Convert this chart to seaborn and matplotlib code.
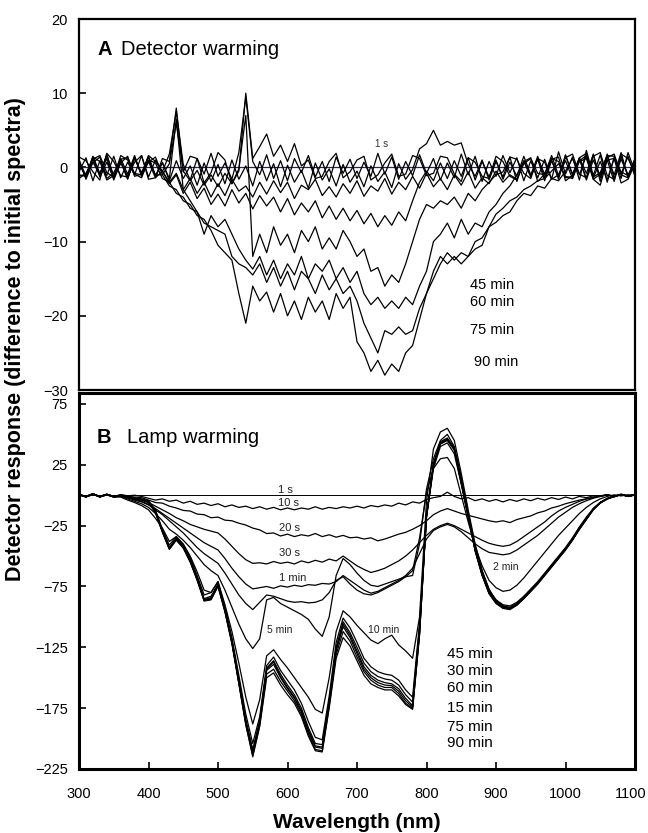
import numpy as np
import pandas as pd
import matplotlib
matplotlib.use("Agg")
import matplotlib.pyplot as plt
import matplotlib.transforms as mtransforms
import seaborn as sns

# ---------------- data ----------------
wavelength = np.arange(300, 1101, 10)  # nm sampling grid

# Panel A: detector warming (difference to initial spectra)
A_1s_x = [300, 1100]
A_1s_y = [0.0, 0.0]
A_2min = [-0.6, 1.3, -1.8, 0.9, -1.1, 1.5, -1.4, 0.7, -1.0, 1.6,
          -1.3, 1.0, -0.6, 1.8, 7.5, 0.4, -1.7, 1.2, -0.9, 1.9,
          -1.2, 0.6, -1.6, 2.0, 9.5, 0.8, -1.0, 1.7, -1.5, 0.9,
          -1.8, 1.2, -0.7, 1.6, -1.3, 0.8, -1.9, 1.4, -0.8, 1.1,
          -1.5, 0.7, -1.2, 1.9, -0.9, 1.4, -1.6, 0.8, -1.1, 1.7,
          -0.8, 1.2, -1.7, 0.6, -1.4, 1.8, -1.0, 1.5, -1.9, 0.8,
          -1.2, 1.6, -0.7, 1.3, -1.8, 0.9, -1.4, 1.1, -1.6, 2.1,
          -0.9, 1.4, -1.7, 2.3, -1.1, 1.7, -2.0, 1.3, -1.5, 2.0,
          -0.6]
A_5min = [1.4, 0.9, -0.6, -1.7, 1.9, 0.8, -1.1, -1.3, 0.7, 1.6,
          -1.6, -1.4, 1.2, 0.8, 8.0, -0.6, 1.5, 1.2, -2.1, -0.7,
          2.0, 1.0, -2.2, -0.5, 10.0, 1.2, 2.8, 4.5, 1.5, 3.0,
          0.8, 3.2, 0.2, 1.0, -1.5, -1.2, 0.8, 1.9, -1.4, -0.6,
          1.0, 1.5, -1.7, -1.0, 0.6, 1.8, -1.2, -0.9, 1.6, 1.2,
          -1.1, -0.8, 1.5, 1.3, -0.9, -1.9, 1.3, 0.7, -1.2, -1.5,
          1.5, 0.8, -1.2, -1.7, 0.8, 1.3, -1.9, -0.9, 1.1, 1.4,
          -1.8, -1.1, 1.3, 1.9, -1.6, -2.4, 1.0, 1.2, -2.1, -1.6,
          0.5]
A_10min = [0.6, -1.4, 1.1, -0.9, 1.6, -1.2, 0.8, -1.6, 1.3, -1.0,
           1.5, -1.1, 0.7, -1.8, 0.9, -1.5, 0.2, -2.4, 0.6, -1.9,
           0.4, -2.2, 1.0, -1.6, 0.2, -2.5, 0.8, -1.8, 0.5, -2.6,
           0.3, -2.0, -0.4, -2.8, 0.6, -1.7, -0.2, -2.5, 0.4, -2.0,
           -0.5, -2.6, 0.2, -1.9, -0.6, -2.7, 0.5, -1.6, -0.3, 2.5,
           3.2, 5.0, 3.0, 3.5, 3.0, 3.3, 0.4, -1.2, 1.0, -1.7,
           0.8, -1.3, 1.4, -1.9, 0.9, -1.1, 1.5, -1.4, 1.0, -1.6,
           1.7, -1.0, 1.2, -1.5, 1.8, -1.9, 1.5, -1.0, 2.0, -1.4,
           0.8]
A_15min = [-1.2, -0.9, 0.6, 1.4, -1.5, -0.7, 1.1, 1.3, -0.8, -1.0,
           1.6, 0.8, -0.5, -2.0, -0.8, -3.0, -1.5, -3.5, -2.0, -4.0,
           -2.2, -3.8, -1.6, -3.2, -2.5, -4.0, -2.0, -3.6, -1.8, -3.4,
           -2.0, -4.2, -2.4, -3.0, -1.6, -3.8, -2.6, -4.0, -2.2, -3.5,
           -1.8, -3.9, -2.5, -3.2, -1.5, -3.6, -2.0, -3.0, -1.2, -2.8,
           -0.8, -2.6, -1.5, -3.0, -1.0, -2.4, -0.6, -2.8, -1.4, -2.2,
           -0.5, -2.0, -1.0, -1.6, 0.5, 1.2, -0.8, -1.0, 1.2, 0.8,
           -1.4, -1.2, 0.9, 1.6, -1.3, -0.7, 1.6, 1.5, -0.6, -1.1,
           1.2]
A_30min = [0.9, -1.1, 1.4, -1.3, 0.7, -1.5, 1.2, -0.9, 1.6, -1.2,
           0.8, -1.4, -0.5, -2.2, -1.0, -3.5, -2.0, -4.2, -2.8, -5.0,
           -3.6, -5.2, -3.0, -4.8, -3.5, -5.6, -3.8, -5.2, -4.0, -6.0,
           -4.2, -6.4, -4.8, -6.0, -4.5, -6.8, -5.2, -7.0, -5.5, -7.2,
           -5.8, -7.6, -6.2, -8.0, -6.5, -7.8, -6.0, -7.2, -4.5, -2.0,
           -0.5, -1.8, 0.6, -1.5, 0.9, -1.2, 1.3, -1.7, 0.8, -1.3,
           1.0, -1.6, 0.7, -1.2, 1.5, -1.0, 1.1, -1.8, 0.9, -1.3,
           1.6, -0.9, 1.2, -1.7, 1.0, -1.2, 1.8, -1.5, 1.1, -1.0,
           0.5]
A_45min = [-1.0, -1.2, 1.4, 0.8, -1.7, -1.1, 0.6, 1.5, -1.2, -0.9,
           0.7, 1.4, -1.0, 0.5, 6.0, -0.5, -1.8, -0.4, -2.4, -1.0,
           -2.6, -0.8, -2.2, -0.2, 7.0, -12.0, -9.0, -11.5, -8.0, -10.5,
           -9.0, -11.5, -8.5, -10.0, -8.0, -11.0, -9.5, -11.0, -8.5, -10.0,
           -12.0, -11.0, -14.0, -13.5, -16.0, -14.5, -15.5, -13.0, -10.0, -7.0,
           -5.0, -5.5, -4.5, -5.0, -4.0, -5.5, -3.5, -4.5, -3.0, -2.0,
           -1.0, -0.6, 1.4, 1.1, -0.8, -1.5, 1.2, 0.7, -1.6, -1.0,
           1.3, 1.8, -0.9, -1.4, 1.5, 2.0, -1.1, -1.6, 1.8, 1.2,
           -0.8]
A_60min = [1.1, -1.6, 0.7, -1.0, 1.8, -1.3, 0.9, -1.5, 1.2, -0.7,
           1.4, -1.2, 0.6, -1.5, 6.5, -3.0, -4.5, -6.0, -9.0, -6.5,
           -8.0, -7.0, -9.0, -11.0, -12.5, -13.7, -12.0, -14.5, -12.5, -15.0,
           -13.0, -14.5, -12.0, -15.0, -13.0, -14.0, -12.5, -15.0, -13.5, -15.5,
           -14.0, -17.0, -18.5, -17.5, -19.0, -18.0, -19.0, -17.5, -18.5, -16.0,
           -14.0, -10.0, -9.0, -7.5, -9.5, -7.0, -9.0, -7.5, -8.0, -6.0,
           -5.0, -3.5, -2.5, -1.0, 0.8, -1.3, 1.2, -0.9, 1.6, -1.1,
           0.9, -1.5, 1.3, -0.8, 1.7, -1.4, 1.0, -1.9, 1.5, -1.2,
           0.7]
A_75min = [-1.5, -0.8, 1.1, 1.6, -0.7, -1.3, 1.6, 1.0, -0.9, -1.4,
           1.0, 0.6, -1.5, -2.0, -3.5, -4.0, -5.5, -6.0, -7.5, -8.0,
           -8.5, -9.0, -12.0, -13.0, -13.5, -14.5, -13.0, -15.5, -13.5, -16.0,
           -14.0, -16.5, -14.0, -15.0, -17.0, -14.5, -16.5, -15.0, -17.0, -16.0,
           -18.0, -21.0, -23.0, -25.0, -22.0, -22.5, -21.5, -22.5, -22.0, -19.0,
           -17.0, -15.0, -13.0, -11.5, -12.5, -11.5, -12.0, -10.0, -9.5, -8.0,
           -6.3, -5.5, -4.5, -4.0, -3.0, -2.5, -1.8, -1.5, -0.5, 0.5,
           -1.2, -1.5, 0.8, 1.2, -1.6, -0.9, 1.3, 1.8, -1.0, -1.4,
           1.1]
A_90min = [0.7, -1.3, 1.5, -0.8, 1.2, -1.7, 0.6, -1.2, 1.4, -1.0,
           0.9, -1.0, -1.0, -2.5, -3.0, -4.5, -5.0, -6.5, -7.0, -8.5,
           -10.5, -11.5, -12.5, -17.0, -21.0, -16.0, -18.0, -16.8, -19.5, -17.0,
           -20.0, -18.0, -20.5, -17.5, -19.5, -18.0, -20.5, -17.0, -19.0, -17.5,
           -23.5, -25.0, -27.5, -26.0, -28.0, -26.5, -27.5, -25.0, -24.0, -20.5,
           -17.0, -14.0, -12.0, -13.0, -12.0, -13.0, -12.0, -11.0, -10.5, -8.0,
           -7.4, -6.5, -6.0, -4.5, -3.5, -3.8, -2.5, -2.8, -1.5, -1.8,
           -0.5, 1.2, -1.0, 1.6, -1.4, 0.8, -1.7, 1.3, -0.9, 1.5,
           -1.2]

# Panel B: lamp warming
B_1s_x = [300, 1100]
B_1s_y = [0.0, 0.0]
B_10s = [0.5, -1.5, 1.0, -1.2, 0.8, -1.0, 0.5, -0.5, 0.0, -1.0,
         -2.5, -4.0, -3.0, -5.0, -4.0, -6.5, -5.0, -7.5, -6.5, -8.5,
         -7.0, -9.5, -8.0, -10.0, -9.0, -11.0, -9.5, -11.5, -10.0, -12.0,
         -10.5, -12.0, -10.5, -11.5, -9.5, -11.5, -10.0, -11.0, -9.5, -10.5,
         -9.0, -10.5, -8.5, -9.5, -8.0, -9.0, -6.5, -8.0, -5.5, -6.5,
         -3.5, -2.0, -1.0, 2.5, -1.0, -3.0, -2.0, -4.5, -3.0, -5.0,
         -3.5, -5.5, -3.5, -5.0, -3.0, -4.5, -2.5, -4.0, -2.0, -3.5,
         -1.5, -3.0, -1.0, -2.0, -0.5, -1.0, 0.5, -1.5, 1.0, -1.0,
         0.5]
B_20s = [0.8, -1.2, 1.2, -1.0, 0.5, -1.3, 0.3, -0.8, -1.5, -2.0,
         -4.0, -6.0, -6.5, -9.0, -10.5, -12.5, -13.0, -15.5, -16.0, -18.5,
         -18.0, -20.5, -21.0, -23.0, -24.5, -27.0, -28.5, -31.5, -31.0, -33.5,
         -32.0, -34.0, -32.5, -33.5, -31.5, -34.0, -32.5, -34.5, -33.0, -35.0,
         -34.5, -36.0, -35.0, -37.5, -36.0, -34.0, -32.0, -30.5, -28.0, -25.0,
         -21.0, -16.0, -13.0, -11.0, -13.0, -15.0, -16.5, -18.0, -19.5, -21.0,
         -22.0, -21.0, -22.5, -20.0, -18.5, -17.0, -14.5, -13.0, -10.5, -9.0,
         -7.0, -5.5, -4.0, -3.0, -1.5, -1.0, 0.3, -0.8, 0.5, -1.0,
         0.3]
B_30s = [0.3, -1.0, 0.9, -1.4, 0.6, -1.1, 0.0, -1.5, -2.5, -4.0,
         -6.0, -9.0, -12.0, -15.0, -18.5, -21.0, -24.0, -26.0, -28.0, -29.5,
         -31.0, -36.0, -42.0, -48.0, -53.0, -56.0, -55.5, -56.5, -54.5, -56.0,
         -55.0, -56.5, -54.0, -55.5, -53.5, -55.0, -52.5, -54.0, -50.0, -54.0,
         -58.0, -61.0, -63.5, -62.0, -60.0, -57.0, -54.0, -50.0, -45.0, -39.0,
         -33.0, -28.0, -25.0, -23.0, -25.0, -28.0, -31.0, -34.0, -37.0, -39.5,
         -41.0, -42.0, -41.0, -38.0, -34.0, -30.0, -26.0, -22.0, -17.0, -13.0,
         -10.0, -7.5, -5.0, -3.0, -2.0, -0.5, 0.5, -1.0, 0.6, -0.8,
         0.2]
B_1min = [0.6, -1.3, 0.4, -1.0, 0.8, -1.5, -0.5, -2.0, -3.5, -5.0,
          -7.5, -11.0, -15.0, -19.0, -23.0, -27.0, -31.0, -35.0, -39.0, -42.0,
          -45.0, -52.0, -60.0, -67.0, -73.0, -77.0, -76.0, -75.0, -76.5, -74.5,
          -75.5, -74.0, -75.0, -73.5, -74.0, -72.5, -73.0, -71.0, -66.0, -70.0,
          -74.0, -78.0, -80.5, -79.0, -76.0, -73.0, -70.0, -66.0, -60.0, -48.0,
          -36.0, -29.0, -26.0, -24.0, -26.0, -30.0, -35.0, -40.0, -44.0, -47.0,
          -48.0, -49.0, -48.0, -45.0, -41.0, -37.0, -33.0, -28.0, -23.0, -18.0,
          -14.0, -10.0, -7.0, -4.5, -2.5, -1.0, 0.3, -0.8, 0.5, -1.0,
          0.4]
B_2min = [0.2, -1.1, 0.7, -1.3, 0.4, -1.4, -0.6, -2.2, -4.0, -5.5,
          -8.0, -12.0, -16.0, -21.0, -26.0, -31.0, -37.0, -43.0, -48.0, -52.0,
          -56.0, -64.0, -73.0, -82.0, -89.0, -94.0, -88.0, -82.0, -83.0, -85.0,
          -87.0, -88.0, -87.5, -88.5, -88.0, -86.0, -80.0, -70.0, -67.0, -73.0,
          -78.0, -81.0, -82.0, -80.0, -77.0, -74.0, -71.0, -67.0, -62.0, -35.0,
          2.0, 22.0, 30.0, 31.0, 22.0, 0.0, -22.0, -42.0, -58.0, -70.0,
          -76.0, -79.0, -78.0, -74.0, -68.0, -61.0, -54.0, -47.0, -40.0, -33.0,
          -27.0, -21.0, -15.0, -10.0, -6.0, -3.0, -1.0, 0.3, -0.6, 0.4,
          0.0]
B_5min = [0.4, -1.2, 0.9, -1.0, 0.3, -1.6, -1.0, -3.0, -5.0, -7.0,
          -10.0, -15.0, -21.0, -28.0, -32.0, -37.0, -43.0, -50.0, -57.0, -62.0,
          -66.0, -78.0, -92.0, -106.0, -118.0, -126.0, -118.0, -86.0, -84.0, -89.0,
          -92.0, -95.0, -98.0, -102.0, -110.0, -116.0, -100.0, -66.0, -52.0, -57.0,
          -64.0, -70.0, -74.0, -75.0, -73.0, -71.0, -69.0, -67.0, -66.0, -40.0,
          5.0, 30.0, 45.0, 50.0, 40.0, 15.0, -15.0, -42.0, -62.0, -78.0,
          -86.0, -91.0, -93.0, -89.0, -84.0, -78.0, -72.0, -65.0, -58.0, -51.0,
          -44.0, -36.0, -27.0, -19.0, -11.0, -6.0, -3.0, -1.0, 0.5, -0.6,
          0.3]
B_10min = [0.7, -1.0, 1.1, -1.5, 0.2, -1.2, -1.5, -4.0, -6.0, -8.5,
           -12.0, -19.0, -27.0, -38.0, -34.0, -40.0, -50.0, -63.0, -78.0, -80.0,
           -71.0, -90.0, -112.0, -138.0, -166.0, -188.0, -168.0, -132.0, -127.0, -135.0,
           -142.0, -150.0, -158.0, -166.0, -176.0, -179.0, -150.0, -112.0, -95.0, -100.0,
           -107.0, -113.0, -119.0, -122.0, -118.0, -115.0, -123.0, -128.0, -134.0, -100.0,
           -5.0, 38.0, 52.0, 55.0, 45.0, 18.0, -12.0, -40.0, -62.0, -77.0,
           -87.0, -91.0, -93.0, -90.0, -85.0, -79.0, -73.0, -66.0, -59.0, -52.0,
           -45.0, -37.0, -28.0, -20.0, -12.0, -6.0, -3.0, -0.5, 0.5, -0.8,
           0.3]
B_15min = [0.3, -1.4, 1.0, -1.1, 0.6, -0.8, -0.6, -1.5, -2.5, -3.5,
           -5.0, -12.0, -28.0, -41.0, -34.0, -41.0, -51.0, -66.0, -82.0, -80.0,
           -71.0, -92.0, -117.0, -148.0, -180.0, -204.0, -182.0, -140.0, -133.0, -144.0,
           -152.0, -160.0, -171.0, -186.0, -199.0, -201.0, -165.0, -121.0, -101.0, -109.0,
           -121.0, -134.0, -141.0, -145.0, -147.0, -148.0, -152.0, -160.0, -166.0, -105.0,
           -18.0, 22.0, 40.0, 43.0, 34.0, 9.0, -18.0, -44.0, -63.0, -78.0,
           -86.0, -90.0, -91.0, -88.0, -83.0, -77.0, -71.0, -64.0, -57.0, -50.0,
           -43.0, -35.0, -26.0, -18.0, -11.0, -6.0, -2.5, -1.0, 0.5, -0.7,
           0.2]
B_30min = [0.8, -1.0, 1.3, -1.4, 0.4, -1.2, -0.3, -1.3, -2.2, -3.2,
           -4.5, -13.0, -29.0, -43.0, -36.0, -42.0, -53.0, -68.0, -85.0, -83.0,
           -73.0, -93.0, -119.0, -151.0, -184.0, -209.0, -185.0, -142.0, -136.0, -147.0,
           -156.0, -164.0, -175.0, -191.0, -204.0, -205.0, -169.0, -125.0, -104.0, -113.0,
           -125.0, -138.0, -145.0, -149.0, -151.0, -152.0, -156.0, -164.0, -170.0, -108.0,
           -18.0, 24.0, 42.0, 45.0, 37.0, 10.0, -18.0, -45.0, -64.0, -79.0,
           -87.0, -91.0, -92.0, -89.0, -84.0, -78.0, -72.0, -65.0, -58.0, -51.0,
           -44.0, -36.0, -27.0, -19.0, -11.5, -6.0, -3.0, -1.0, 0.6, -0.6,
           0.3]
B_45min = [0.5, -1.3, 0.8, -1.0, 0.9, -1.1, -0.4, -1.6, -2.4, -3.6,
           -5.5, -14.0, -30.0, -44.0, -36.0, -43.0, -54.0, -69.0, -86.0, -85.0,
           -74.0, -95.0, -121.0, -154.0, -187.0, -212.0, -187.0, -144.0, -139.0, -150.0,
           -159.0, -167.0, -178.0, -194.0, -207.0, -208.0, -171.0, -128.0, -106.0, -115.0,
           -128.0, -141.0, -148.0, -152.0, -154.0, -155.0, -159.0, -167.0, -173.0, -112.0,
           -17.0, 25.0, 43.0, 46.0, 38.0, 11.0, -17.0, -45.0, -65.0, -80.0,
           -88.0, -92.0, -93.0, -90.0, -84.0, -78.0, -72.0, -65.0, -58.0, -51.0,
           -44.0, -36.0, -27.0, -19.0, -11.0, -6.0, -2.8, -0.8, 0.4, -0.9,
           0.1]
B_60min = [0.2, -1.1, 1.2, -1.3, 0.6, -0.9, -0.7, -1.4, -2.6, -3.4,
           -5.0, -13.5, -29.5, -43.5, -35.0, -42.5, -53.5, -68.5, -86.0, -84.0,
           -73.5, -94.0, -120.0, -153.0, -186.0, -211.0, -186.0, -143.0, -137.0, -149.0,
           -158.0, -166.0, -177.0, -193.0, -206.0, -207.0, -170.0, -127.0, -108.0, -117.0,
           -130.0, -143.0, -150.0, -154.0, -156.0, -156.5, -161.0, -169.0, -174.0, -113.0,
           -17.5, 24.5, 42.5, 45.5, 37.5, 10.5, -17.5, -45.5, -65.5, -80.5,
           -88.5, -92.5, -93.5, -90.0, -84.5, -78.5, -72.5, -65.5, -58.5, -51.5,
           -44.5, -36.5, -27.5, -19.5, -11.5, -6.5, -3.0, -1.2, 0.4, -0.5,
           0.2]
B_75min = [0.6, -1.5, 0.9, -1.2, 0.7, -1.0, -0.5, -1.7, -2.7, -3.8,
           -6.0, -14.5, -30.5, -44.5, -37.0, -43.5, -55.0, -70.0, -87.0, -86.0,
           -75.0, -96.0, -122.0, -155.0, -189.0, -214.0, -189.0, -147.0, -143.0, -153.0,
           -161.0, -169.0, -180.0, -196.0, -209.0, -210.0, -173.0, -131.0, -112.0, -120.0,
           -133.0, -145.0, -152.0, -156.0, -158.0, -158.0, -163.0, -171.0, -175.0, -114.0,
           -17.0, 25.0, 43.0, 46.0, 38.0, 11.0, -17.0, -46.0, -66.0, -81.0,
           -89.0, -93.0, -94.0, -90.5, -85.0, -79.0, -73.0, -66.0, -59.0, -52.0,
           -45.0, -37.0, -28.0, -20.0, -12.0, -6.5, -3.2, -1.0, 0.5, -0.7,
           0.1]
B_90min = [0.4, -1.2, 1.1, -1.0, 0.5, -1.3, -0.6, -1.5, -2.5, -3.7,
           -5.5, -14.0, -30.0, -44.0, -36.5, -43.0, -54.5, -69.5, -86.5, -85.5,
           -74.5, -95.5, -121.5, -154.5, -188.0, -215.0, -190.0, -150.0, -146.0, -156.0,
           -164.0, -171.0, -182.0, -198.0, -210.0, -211.0, -175.0, -134.0, -117.0, -124.0,
           -136.0, -148.0, -155.0, -158.0, -160.0, -160.0, -165.0, -172.0, -176.0, -115.0,
           -16.0, 26.0, 44.0, 47.0, 39.0, 12.0, -16.0, -45.0, -65.5, -80.5,
           -88.5, -92.5, -93.5, -90.0, -84.5, -78.5, -72.5, -65.5, -58.5, -51.5,
           -44.5, -36.5, -27.5, -19.5, -11.5, -6.0, -2.8, -0.9, 0.5, -0.6,
           0.2]

A_curves = {"2 min": A_2min, "5 min": A_5min, "10 min": A_10min,
            "15 min": A_15min, "30 min": A_30min, "45 min": A_45min,
            "60 min": A_60min, "75 min": A_75min, "90 min": A_90min}
B_curves = {"10 s": B_10s, "20 s": B_20s, "30 s": B_30s, "1 min": B_1min,
            "2 min": B_2min, "5 min": B_5min, "10 min": B_10min,
            "15 min": B_15min, "30 min": B_30min, "45 min": B_45min,
            "60 min": B_60min, "75 min": B_75min, "90 min": B_90min}

bad = [(k, len(v)) for d in (A_curves, B_curves) for k, v in d.items() if len(v) != len(wavelength)]
if bad:
    raise SystemExit(f"length mismatch: {bad}")


def to_long(curves):
    frames = [pd.DataFrame({"wavelength": wavelength, "response": vals, "time": name})
              for name, vals in curves.items()]
    return pd.concat(frames, ignore_index=True)


dfA = to_long(A_curves)
dfB = to_long(B_curves)

# ---------------- figure ----------------
sns.set_theme(style="white")
plt.rcParams["font.family"] = ["Liberation Sans", "DejaVu Sans"]
plt.rcParams["axes.unicode_minus"] = True
for key in ("text.color", "axes.labelcolor", "xtick.color", "ytick.color", "axes.edgecolor"):
    plt.rcParams[key] = "black"

W, H = 648, 833
fig = plt.figure(figsize=(W / 100, H / 100), dpi=100)
axA = fig.add_axes([79 / W, 1 - 390 / H, 556 / W, 371 / H])
axB = fig.add_axes([79 / W, 1 - 769 / H, 556 / W, 376 / H])

# panel A
axA.plot(A_1s_x, A_1s_y, color="#2a2070", lw=0.9, zorder=1)
sns.lineplot(data=dfA, x="wavelength", y="response", units="time", estimator=None,
             color="black", linewidth=0.9, ax=axA, legend=False, sort=False)
axA.set_xlim(300, 1100)
axA.set_ylim(-30, 20)
axA.set_yticks([20, 10, 0, -10, -20, -30])
axA.set_xticks([])

# panel B
sns.lineplot(x=B_1s_x, y=B_1s_y, color="black", linewidth=0.7, ax=axB)
sns.lineplot(data=dfB, x="wavelength", y="response", units="time", estimator=None,
             color="black", linewidth=0.9, ax=axB, legend=False, sort=False)
axB.set_xlim(300, 1100)
axB.set_ylim(-225, 84)
axB.set_yticks([75, 25, -25, -75, -125, -175, -225])
axB.set_xticks(list(range(300, 1101, 100)))

for ax, lw in ((axA, 1.6), (axB, 2.2)):
    ax.set_xlabel("")
    ax.set_ylabel("")
    for s in ax.spines.values():
        s.set_visible(True)
        s.set_color("black")
        s.set_linewidth(lw)
    ax.tick_params(axis="y", direction="in", length=5, width=1.2, labelsize=10.5,
                   pad=8, left=True, colors="black")
    ax.tick_params(axis="x", direction="in", length=5, width=1.2, labelsize=10.5,
                   pad=13, bottom=True, colors="black")
    ax.grid(False)

# nudge the last x tick label so that it stays inside the figure
last = axB.xaxis.get_major_ticks()[-1].label1
last.set_transform(last.get_transform() +
                   mtransforms.ScaledTranslation(-4 / 100, 0, fig.dpi_scale_trans))

# titles
axA.text(0.034, 0.903, "A", transform=axA.transAxes, fontsize=14.5,
         fontweight="bold", ha="left", va="baseline", color="black")
axA.text(0.075, 0.903, "Detector warming", transform=axA.transAxes, fontsize=14.5,
         ha="left", va="baseline", color="black")
axB.text(0.031, 0.867, "B", transform=axB.transAxes, fontsize=14.5,
         fontweight="bold", ha="left", va="baseline", color="black")
axB.text(0.086, 0.867, "Lamp warming", transform=axB.transAxes, fontsize=14.5,
         ha="left", va="baseline", color="black")

# labels in panel A
axA.text(735, 3.1, "1 s", fontsize=7, color="#333333", ha="center", va="center")
for lab, xx, yy in (("45 min", 862, -15.9), ("60 min", 862, -18.1),
                    ("75 min", 862, -21.9), ("90 min", 869, -26.2)):
    axA.text(xx, yy, lab, fontsize=10.5, ha="left", va="center", color="black")

# labels in panel B
for lab, xx, yy in (("1 s", 597, 4.4), ("10 s", 602, -6.2), ("20 s", 603, -26.8),
                    ("30 s", 603, -47.3), ("1 min", 608, -67.9)):
    axB.text(xx, yy, lab, fontsize=8, color="#222222", ha="center", va="center")
for lab, xx, yy in (("5 min", 589, -110.6), ("10 min", 739, -110.6), ("2 min", 914, -58.8)):
    axB.text(xx, yy, lab, fontsize=7.5, color="#222222", ha="center", va="center")
for lab, yy in (("45 min", -130.4), ("30 min", -144.3), ("60 min", -158.3),
                ("15 min", -174.7), ("75 min", -190.4), ("90 min", -203.5)):
    axB.text(829, yy, lab, fontsize=11, ha="left", va="center", color="black")

# axis titles
fig.text(16 / W, 1 - 339 / H, "Detector response (difference to initial spectra)",
         rotation=90, fontsize=15.5, fontweight="bold", ha="center", va="center",
         color="black")
fig.text(357 / W, 1 - 828 / H, "Wavelength (nm)", fontsize=15, fontweight="bold",
         ha="center", va="baseline", color="black")

fig.savefig("out.png", dpi=100)
